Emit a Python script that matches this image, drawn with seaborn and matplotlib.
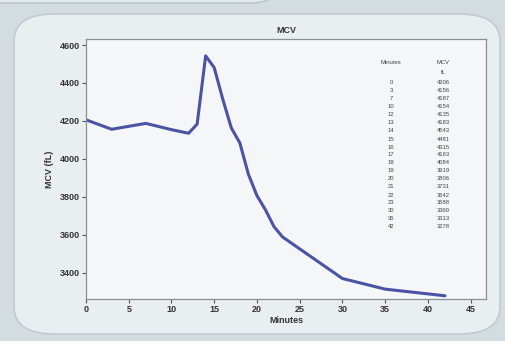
import numpy as np
import pandas as pd
import seaborn as sns
import matplotlib
matplotlib.use('Agg')
import matplotlib.pyplot as plt
from matplotlib.patches import FancyBboxPatch

minutes = [0, 3, 7, 10, 12, 13, 14, 15, 16, 17, 18, 19, 20, 21, 22, 23, 30, 35, 42]
mcv = [4206, 4156, 4187, 4154, 4135, 4183, 4543, 4481, 4315, 4163,
       4084, 3919, 3806, 3731, 3642, 3588, 3369, 3313, 3278]
x_ticks = [0, 5, 10, 15, 20, 25, 30, 35, 40, 45]
y_ticks = [3400, 3600, 3800, 4000, 4200, 4400, 4600]

df = pd.DataFrame({'Minutes': minutes, 'MCV': mcv})

sns.set_theme(style='white')
plt.rcParams['font.family'] = ['Liberation Sans', 'DejaVu Sans']

W, H = 506, 341
fig = plt.figure(figsize=(W / 100, H / 100), dpi=100)
fig.patch.set_facecolor('#d3dde1')


def px(x, y):
    # pixel (top-left origin) -> figure fraction
    return x / W, 1 - y / H


# background panels (kept behind the axes)
top_panel = FancyBboxPatch((-0.05, 1 - 3 / H), 305 / W, 0.2,
                           boxstyle='round,pad=0,rounding_size=0.06',
                           transform=fig.transFigure, facecolor='#e2e9ec',
                           edgecolor='#b9c4c8', linewidth=1.0, zorder=-10)
fig.patches.append(top_panel)
panel = FancyBboxPatch((14 / W, 1 - 334 / H), 486 / W, 320 / H,
                       boxstyle='round,pad=0,rounding_size=0.08',
                       transform=fig.transFigure, facecolor='#e9eef0',
                       edgecolor='#c2ccd0', linewidth=1.2, zorder=-10)
fig.patches.append(panel)

l, t = px(86, 39)
r, b = px(486, 299)
ax = fig.add_axes([l, b, r - l, t - b])
ax.set_facecolor('#f4f6f7')

sns.lineplot(data=df, x='Minutes', y='MCV', ax=ax, color='#4b53a3',
             linewidth=2.2)

ax.set_xlim(0, 46.8)
ax.set_ylim(3261, 4632)
ax.set_xticks(x_ticks)
ax.set_yticks(y_ticks)
ax.tick_params(axis='both', which='both', length=3, width=0.8, color='#555555',
               labelsize=6.5, labelcolor='#333333', pad=1.5,
               bottom=True, left=True)
for lab in ax.get_xticklabels() + ax.get_yticklabels():
    lab.set_fontweight('bold')
for s in ax.spines.values():
    s.set_color('#8a8f93')
    s.set_linewidth(0.9)

ax.set_xlabel('Minutes', fontsize=6.5, color='#333333', fontweight='bold',
              labelpad=1)
ax.set_ylabel('MCV (fL)', fontsize=6.5, color='#333333', fontweight='bold',
              labelpad=4)
ax.set_title('MCV', fontsize=6.5, color='#333333', fontweight='bold', pad=4)

# inset table
tc = '#444444'
fig.text(*px(391, 63), 'Minutes', fontsize=4.2, color=tc, ha='center', va='center')
fig.text(*px(443, 63), 'MCV', fontsize=4.2, color=tc, ha='center', va='center')
fig.text(*px(443, 73), 'fL', fontsize=4.2, color=tc, ha='center', va='center')
for i, (m, v) in enumerate(zip(minutes, mcv)):
    y = 83 + 8 * i
    fig.text(*px(391, y), str(m), fontsize=4.2, color=tc, ha='center', va='center')
    fig.text(*px(443, y), str(v), fontsize=4.2, color=tc, ha='center', va='center')

fig.savefig('out.png', dpi=100, facecolor=fig.get_facecolor())
